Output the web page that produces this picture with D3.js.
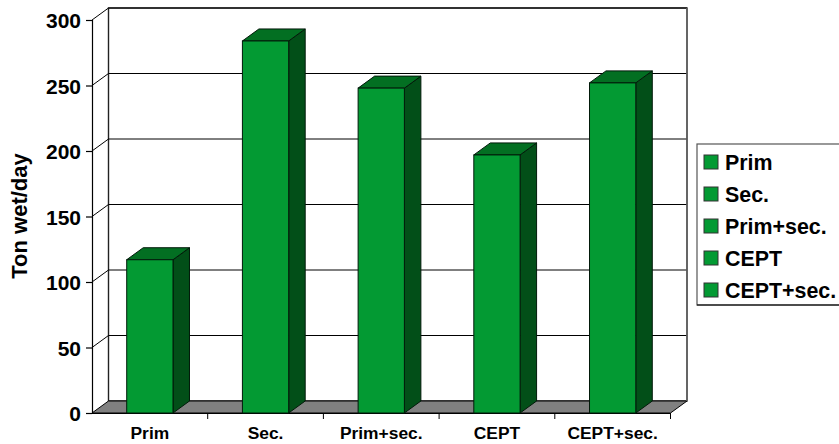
<!DOCTYPE html>
<html>
<head>
<meta charset="utf-8">
<script src="https://cdn.jsdelivr.net/npm/d3@7"></script>
<style>
html,body{margin:0;padding:0;background:#fff}
svg{display:block}
text{font-family:"Liberation Sans",Arial,sans-serif;font-weight:bold;fill:#000}
</style>
</head>
<body>
<svg id="chart" width="839" height="444"></svg>
<script>
const categories = ["Prim", "Sec.", "Prim+sec.", "CEPT", "CEPT+sec."];
const tonsPerDay = [117, 284, 248, 197, 252];
const valueTicks = [0, 50, 100, 150, 200, 250, 300];

const plot = {left: 92, right: 670.5, top: 20, bottom: 413};
const depth = {dx: 16.5, dy: -12};
const barColors = {front: "#039a33", top: "#036f22", side: "#024f18"};

const svg = d3.select("#chart");
const x = d3.scaleBand().domain(categories).range([plot.left, plot.right]).paddingInner(0.6).paddingOuter(0.3);
const band = d3.scaleBand().domain(categories).range([plot.left, plot.right]);
const y = d3.scaleLinear().domain([0, 300]).range([plot.bottom, plot.top]);
const pts = a => a.map(p => p.join(",")).join(" ");

// Back wall, left wall and floor of the 3D box
svg.append("rect")
  .attr("x", plot.left + depth.dx).attr("y", plot.top + depth.dy)
  .attr("width", plot.right - plot.left).attr("height", plot.bottom - plot.top)
  .attr("fill", "#fff").attr("stroke", "#222").attr("stroke-width", 1.4);
svg.append("polygon")
  .attr("points", pts([[plot.left, plot.bottom], [plot.right, plot.bottom],
    [plot.right + depth.dx, plot.bottom + depth.dy], [plot.left + depth.dx, plot.bottom + depth.dy]]))
  .attr("fill", "#808080").attr("stroke", "#000").attr("stroke-width", 1);

// Gridlines wrap from the left wall onto the back wall
const grid = svg.append("g").attr("fill", "none").attr("stroke", "#000").attr("stroke-width", 1);
grid.selectAll("polyline").data(valueTicks.filter(v => v > 0)).join("polyline")
  .attr("points", v => pts([[plot.left, y(v)], [plot.left + depth.dx, y(v) + depth.dy], [plot.right + depth.dx, y(v) + depth.dy]]));

// Right edge of the back wall reads lighter than the other edges
svg.append("line")
  .attr("x1", plot.right + depth.dx).attr("x2", plot.right + depth.dx)
  .attr("y1", plot.top + depth.dy).attr("y2", plot.bottom + depth.dy)
  .attr("stroke", "#666").attr("stroke-width", 1.6);

// Axes
const yAxis = svg.append("g").attr("transform", `translate(${plot.left},0)`)
  .call(d3.axisLeft(y).tickValues(valueTicks).tickSize(6).tickPadding(5));
yAxis.selectAll("text").style("font-size", "21px").attr("dy", "0.36em");
yAxis.selectAll("line,path").attr("stroke", "#000").attr("stroke-width", 1.2);

const xAxis = svg.append("g").attr("transform", `translate(0,${plot.bottom})`)
  .call(d3.axisBottom(band).tickSize(0).tickPadding(14));
xAxis.selectAll("text").style("font-size", "17.4px");
xAxis.selectAll("path").attr("stroke", "#000").attr("stroke-width", 1.2);
xAxis.selectAll(".boundary").data(categories.map((c, i) => i)).join("line")
  .attr("class", "boundary")
  .attr("x1", i => band(categories[i]) + band.bandwidth()).attr("x2", i => band(categories[i]) + band.bandwidth())
  .attr("y1", 0).attr("y2", 6).attr("stroke", "#000");

svg.append("text")
  .attr("transform", "translate(27,216) rotate(-90)")
  .attr("text-anchor", "middle").style("font-size", "22px")
  .text("Ton wet/day");

// Bars: side face, top face, then front face
const bars = svg.append("g").selectAll("g").data(categories.map((c, i) => ({c, v: tonsPerDay[i]}))).join("g")
  .attr("stroke", "#021a0a").attr("stroke-width", 1);
bars.append("polygon").attr("fill", barColors.side)
  .attr("points", d => { const r = x(d.c) + x.bandwidth();
    return pts([[r, y(d.v)], [r + depth.dx, y(d.v) + depth.dy], [r + depth.dx, plot.bottom + depth.dy], [r, plot.bottom]]); });
bars.append("polygon").attr("fill", barColors.top)
  .attr("points", d => { const l = x(d.c), r = l + x.bandwidth();
    return pts([[l, y(d.v)], [l + depth.dx, y(d.v) + depth.dy], [r + depth.dx, y(d.v) + depth.dy], [r, y(d.v)]]); });
bars.append("rect").attr("fill", barColors.front)
  .attr("x", d => x(d.c)).attr("y", d => y(d.v))
  .attr("width", x.bandwidth()).attr("height", d => plot.bottom - y(d.v));

// Legend
const legend = svg.append("g");
legend.append("rect").attr("x", 697).attr("y", 144).attr("width", 150).attr("height", 161)
  .attr("fill", "#fff").attr("stroke", "#555").attr("stroke-width", 1.2);
legend.append("line").attr("x1", 697).attr("x2", 839).attr("y1", 305).attr("y2", 305)
  .attr("stroke", "#000").attr("stroke-width", 1.2);
const rows = legend.selectAll("g").data(categories).join("g")
  .attr("transform", (d, i) => `translate(704,${155 + i * 32})`);
rows.append("rect").attr("width", 14).attr("height", 14)
  .attr("fill", barColors.front).attr("stroke", "#333").attr("stroke-width", 1);
rows.append("text").attr("x", 21).attr("y", 15).style("font-size", "21.4px").text(d => d);
</script>
</body>
</html>
